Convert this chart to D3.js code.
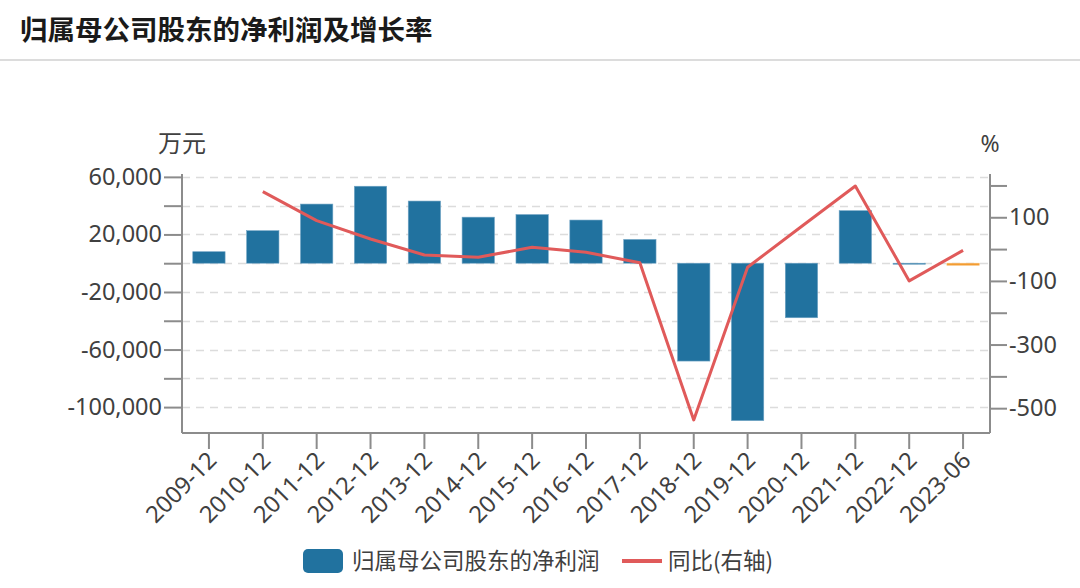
<!DOCTYPE html>
<html>
<head>
<meta charset="utf-8">
<script src="https://cdn.jsdelivr.net/npm/d3@7"></script>
<style>
  body { margin: 0; background: #fff; }
  svg { display: block; }
</style>
</head>
<body>
<svg id="chart" width="1080" height="588"></svg>
<script>
const categories = ['2009-12', '2010-12', '2011-12', '2012-12', '2013-12', '2014-12', '2015-12', '2016-12',
                    '2017-12', '2018-12', '2019-12', '2020-12', '2021-12', '2022-12', '2023-06'];
// 归属母公司股东的净利润 (万元)
const profit = [8000, 22600, 41100, 53500, 43200, 32000, 33800, 30000, 16500, -68000, -109400, -37900, 36500, -700, -1400];
// 同比 (%)
const growth = [null, 180.5, 89.3, 31.8, -18.6, -25.8, 5.7, -10, -42.8, -537, -57, 71, 198.4, -100, -4];
const leftTicks = [60000, 40000, 20000, 0, -20000, -40000, -60000, -80000, -100000];
const leftLabels = [60000, 20000, -20000, -60000, -100000];
const rightTicks = [200, 100, 0, -100, -200, -300, -400, -500];
const rightLabels = [100, -100, -300, -500];

const font = '"Noto Sans", "Noto Sans CJK SC", sans-serif';
const cjk = '"Noto Sans CJK SC", sans-serif';
const axisColor = '#8c8c8c';
const textColor = '#404040';
const dims = {left: 182, right: 990, top: 174, bottom: 433};

const svg = d3.select('#chart');

// title
svg.append('text')
   .attr('x', 20).attr('y', 40)
   .attr('font-family', cjk)
   .attr('font-size', 27.5)
   .attr('font-weight', 'bold')
   .attr('fill', '#1a1a1a')
   .text('归属母公司股东的净利润及增长率');
svg.append('rect')
   .attr('x', 0).attr('y', 59).attr('width', 1080).attr('height', 2)
   .attr('fill', '#dcdcdc');

const x = d3.scaleBand()
            .domain(categories)
            .range([dims.left, dims.right])
            .paddingInner(0.4)
            .paddingOuter(0.2);
const yL = d3.scaleLinear()
             .domain([-118000, 62000])
             .range([dims.bottom, dims.top]);
const yR = d3.scaleLinear()
             .domain([-578, 236])
             .range([dims.bottom, dims.top]);

// grid
svg.append('g')
   .selectAll('line')
   .data(leftTicks)
   .enter()
   .append('line')
   .attr('x1', dims.left).attr('x2', dims.right)
   .attr('y1', d => Math.round(yL(d)) + 0.5)
   .attr('y2', d => Math.round(yL(d)) + 0.5)
   .attr('stroke', '#dcdcdc')
   .attr('stroke-width', 1.5)
   .attr('stroke-dasharray', '8,6');

// bars
svg.append('g')
   .selectAll('rect')
   .data(profit)
   .enter()
   .append('rect')
   .attr('x', (d, i) => x(categories[i]))
   .attr('width', x.bandwidth())
   .attr('y', d => yL(Math.max(0, d)))
   .attr('height', d => Math.abs(yL(d) - yL(0)))
   .attr('fill', (d, i) => categories[i].endsWith('-06') ? '#f39a2e' : '#21729f')
   .attr('stroke', (d, i) => categories[i].endsWith('-06') ? '#f7b86a' : '#6fa3c4')
   .attr('stroke-width', 0.6);

// left axis
const leftAxis = d3.axisLeft(yL)
                   .tickValues(leftTicks)
                   .tickSize(18)
                   .tickPadding(2)
                   .tickFormat(d => leftLabels.includes(d) ? d3.format(',')(d).replace('−', '-') : '');
const gL = svg.append('g')
              .attr('transform', `translate(${dims.left},0)`)
              .call(leftAxis);

// right axis
const rightAxis = d3.axisRight(yR)
                    .tickValues(rightTicks)
                    .tickSize(17)
                    .tickPadding(2)
                    .tickFormat(d => rightLabels.includes(d) ? String(d) : '');
const gR = svg.append('g')
              .attr('transform', `translate(${dims.right},0)`)
              .call(rightAxis);

// bottom axis
const bottomAxis = d3.axisBottom(x)
                     .tickSize(16)
                     .tickPadding(2);
const gB = svg.append('g')
              .attr('transform', `translate(0,${dims.bottom})`)
              .call(bottomAxis);

[gL, gR, gB].forEach(g => {
  g.select('.domain').attr('stroke', axisColor).attr('stroke-width', 2);
  g.selectAll('.tick line').attr('stroke', axisColor).attr('stroke-width', 2);
  g.selectAll('text')
   .attr('fill', textColor)
   .attr('font-family', font)
   .attr('font-size', 23.5);
});
gB.selectAll('text')
  .attr('text-anchor', 'end')
  .attr('dx', '-0.05em')
  .attr('dy', '0.6em')
  .attr('transform', function() {
    const t = d3.select(this);
    return `rotate(-45, 0, ${+t.attr('y')})`;
  });
gL.select('.domain').attr('d', `M0,${dims.top}V${dims.bottom}`);
gR.select('.domain').attr('d', `M0,${dims.top}V${dims.bottom}`);
gB.select('.domain').attr('d', `M${dims.left},0H${dims.right}`);

// unit labels
svg.append('text')
   .attr('x', 182).attr('y', 152)
   .attr('text-anchor', 'middle')
   .attr('font-family', cjk).attr('font-size', 24)
   .attr('fill', textColor)
   .text('万元');
svg.append('text')
   .attr('x', 990).attr('y', 152)
   .attr('text-anchor', 'middle')
   .attr('font-family', font).attr('font-size', 23)
   .attr('fill', textColor)
   .text('%');

// growth line
const line = d3.line()
               .defined(d => d != null)
               .x((d, i) => x(categories[i]) + x.bandwidth() / 2)
               .y(d => yR(d));
svg.append('path')
   .datum(growth)
   .attr('fill', 'none')
   .attr('stroke', '#e05a5a')
   .attr('stroke-width', 3)
   .attr('stroke-linejoin', 'round')
   .attr('d', line);

// legend
const legend = svg.append('g');
legend.append('rect')
      .attr('x', 303).attr('y', 549).attr('width', 40).attr('height', 24).attr('rx', 5)
      .attr('fill', '#21729f');
legend.append('text')
      .attr('x', 352).attr('y', 569)
      .attr('font-family', cjk).attr('font-size', 22.5)
      .attr('fill', textColor)
      .text('归属母公司股东的净利润');
legend.append('line')
      .attr('x1', 622).attr('x2', 662).attr('y1', 561).attr('y2', 561)
      .attr('stroke', '#e05a5a').attr('stroke-width', 4);
legend.append('text')
      .attr('x', 668).attr('y', 569)
      .attr('font-family', cjk).attr('font-size', 22.5)
      .attr('fill', textColor)
      .text('同比(右轴)');
</script>
</body>
</html>
